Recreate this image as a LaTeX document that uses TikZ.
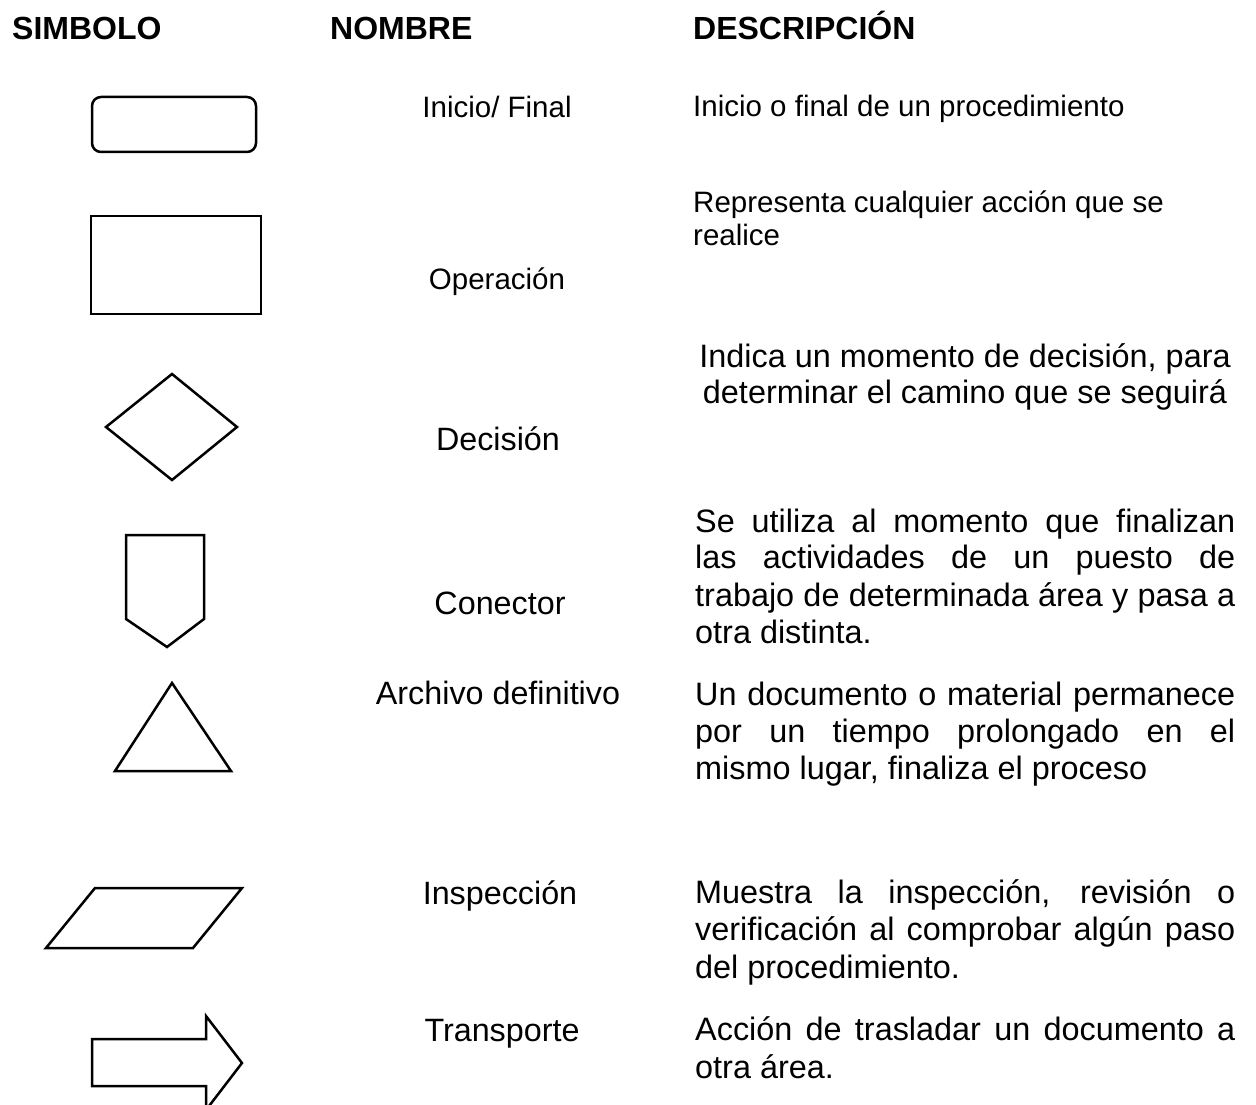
\documentclass[tikz,border=0pt]{standalone}
\usepackage{fontspec}
\setmainfont{Liberation Sans}
\usepackage{tikz}
\tikzset{
	head/.style={font=\bfseries\fontsize{32}{38}\selectfont,anchor=base west,inner sep=0pt},
	nom/.style={font=\fontsize{#1}{38}\selectfont,anchor=base,inner sep=0pt},
	nom/.default=32.3,
	desc/.style={font=\fontsize{#1}{38}\selectfont,anchor=base west,inner sep=0pt},
	desc/.default=32.4,
	simb/.style={line width=2.5pt,line join=miter}
}
\newcommand{\just}[1]{\makebox[540pt][s]{#1}}

\begin{document}
\begin{tikzpicture}[x=1pt,y=-1pt]
	\useasboundingbox (0,0) rectangle (1256,1105);
	\clip (0,0) rectangle (1256,1105);

	% encabezados
	\node [head] (hsim) at (12, 40) {SIMBOLO};
	\node [head] (hnom) at (330, 40) {NOMBRE};
	\node [head] (hdes) at (693, 40) {DESCRIPCIÓN};

	% simbolos
	\draw [simb, rounded corners=9pt] (92, 97) rectangle (256, 152);
	\draw [simb] (91, 216) rectangle (261, 314);
	\draw [simb] (106, 427) -- (172, 374) -- (237, 427) -- (172, 480) -- cycle;
	\draw [simb] (126, 535) -- (204, 535) -- (204, 619) -- (167, 647) -- (126, 619) -- cycle;
	\draw [simb] (172, 683) -- (231, 771) -- (115, 771) -- cycle;
	\draw [simb] (95, 888) -- (242, 888) -- (193, 948) -- (46, 948) -- cycle;
	\draw [simb] (92, 1039) -- (206, 1039) -- (206, 1016) -- (242, 1063) -- (206, 1110) -- (206, 1086) -- (92, 1086) -- cycle;

	% nombres
	\node [nom=29.5] (n1) at (497, 118) {Inicio/ Final};
	\node [nom=29.5] (n2) at (497, 289) {Operación};
	\node [nom] (n3) at (498, 450) {Decisión};
	\node [nom] (n4) at (500, 614) {Conector};
	\node [nom] (n5) at (498, 704) {Archivo definitivo};
	\node [nom] (n6) at (500, 904) {Inspección};
	\node [nom] (n7) at (502, 1041) {Transporte};

	% descripciones
	\node [desc=29.5] (d1) at (693, 117) {Inicio o final de un procedimiento};
	\node [desc=29.5] (d2a) at (693, 212) {Representa cualquier acción que se};
	\node [desc=29.5] (d2b) at (693, 245) {realice};
	\node [desc, anchor=base] (d3a) at (965, 367) {Indica un momento de decisión, para};
	\node [desc, anchor=base] (d3b) at (965, 403) {determinar el camino que se seguirá};
	\node [desc] (d4a) at (695, 532) {\just{Se utiliza al momento que finalizan}};
	\node [desc] (d4b) at (695, 568) {\just{las actividades de un puesto de}};
	\node [desc] (d4c) at (695, 606) {\just{trabajo de determinada área y pasa a}};
	\node [desc] (d4d) at (695, 643) {otra distinta.};
	\node [desc] (d5a) at (695, 705) {\just{Un documento o material permanece}};
	\node [desc] (d5b) at (695, 742) {\just{por un tiempo prolongado en el}};
	\node [desc] (d5c) at (695, 779) {mismo lugar, finaliza el proceso};
	\node [desc] (d6a) at (695, 903) {\just{Muestra la inspección, revisión o}};
	\node [desc] (d6b) at (695, 940) {\just{verificación al comprobar algún paso}};
	\node [desc] (d6c) at (695, 978) {del procedimiento.};
	\node [desc] (d7a) at (695, 1040) {\just{Acción de trasladar un documento a}};
	\node [desc] (d7b) at (695, 1078) {otra área.};
\end{tikzpicture}
\end{document}
